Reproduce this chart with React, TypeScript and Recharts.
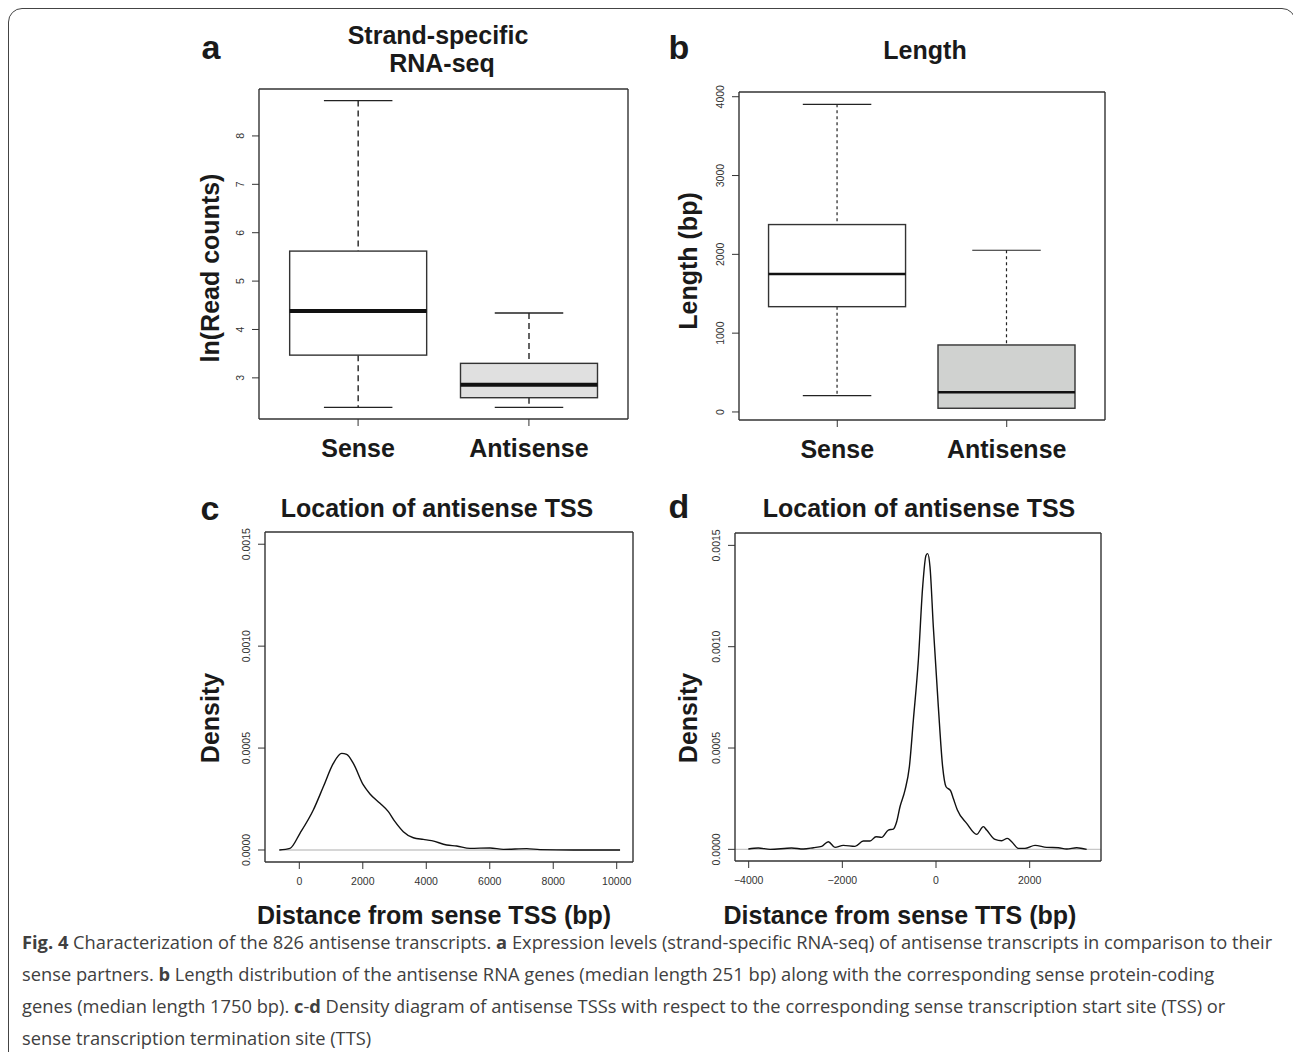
import React from 'react'
import {
  BarChart,
  Bar,
  LineChart,
  Line,
  XAxis,
  YAxis,
  ReferenceLine,
} from 'recharts'

// panel a: strand-specific RNA-seq, ln(read counts)
const boxCats = ['Sense', 'Antisense']
const aMin = [2.39, 2.39]
const aQ1 = [3.47, 2.59]
const aMed = [4.38, 2.86]
const aQ3 = [5.62, 3.3]
const aMax = [8.73, 4.34]
const aTicks = [3, 4, 5, 6, 7, 8]

// panel b: length (bp)
const bMin = [207, 47]
const bQ1 = [1336, 47]
const bMed = [1751, 251]
const bQ3 = [2378, 850]
const bMax = [3904, 2052]
const bTicks = [0, 1000, 2000, 3000, 4000]

// panel c: distance from sense TSS
const cX = [-630, -294, 21, 441, 756, 1071, 1334, 1492, 1702, 2017, 2227, 2542, 2805, 3015, 3277, 3592, 3908, 4170, 4643, 4958, 5378, 6008, 6429, 7164, 7584, 8634, 10105]
const cY = [0, 0.000008, 0.000082, 0.000196, 0.00031, 0.000425, 0.000474, 0.000469, 0.000425, 0.000319, 0.000275, 0.000229, 0.000188, 0.000139, 0.00009, 0.00006, 0.000052, 0.000046, 0.0000245, 0.0000196, 0.000008, 0.00001, 0.000003, 0.0000065, 0.0000016, 0, 0]
const cTicks = [0, 2000, 4000, 6000, 8000, 10000]

// panel d: distance from sense TTS
const dX = [-4007, -3794, -3544, -3082, -2833, -2619, -2441, -2299, -2157, -1979, -1730, -1552, -1409, -1281, -1160, -1018, -911, -840, -769, -662, -569, -484, -377, -285, -214, -178, -128, -57, 50, 142, 214, 313, 370, 456, 655, 868, 1011, 1082, 1260, 1402, 1523, 1616, 1758, 1900, 2114, 2363, 2612, 2790, 3004, 3217]
const dY = [0.0000016, 0.0000066, 0, 0.0000066, 0.0000016, 0.000008, 0.0000148, 0.0000378, 0.0000099, 0.0000197, 0.0000148, 0.000041, 0.000041, 0.0000624, 0.0000591, 0.0000953, 0.0001, 0.000136, 0.00021, 0.000292, 0.000407, 0.000637, 0.000933, 0.001295, 0.00145, 0.001459, 0.001393, 0.001097, 0.000703, 0.000407, 0.000309, 0.000289, 0.000251, 0.000194, 0.000128, 0.000074, 0.000112, 0.000095, 0.000049, 0.0000427, 0.0000542, 0.0000378, 0.0000049, 0.0000049, 0.0000197, 0.0000099, 0.000008, 0.0000016, 0.000008, 0]
const cdYTicks = [0, 0.0005, 0.001, 0.0015]
const dTicks = [-4000, -2000, 0, 2000]

const FONT = '"Liberation Sans", Arial, Helvetica, sans-serif'
const INK = '#333'

function RotYTick(props: any) {
  const { x, y, payload, fmt } = props
  return (
    <text
      x={x}
      y={y}
      transform={`rotate(-90 ${x} ${y})`}
      textAnchor="middle"
      fontSize={10.5}
      fill={INK}
      fontFamily={FONT}
    >
      {fmt ? fmt(payload.value) : payload.value}
    </text>
  )
}

function BoxShape(props: any) {
  const { x, y, width, height, payload, medW, dash, lw } = props
  const [lo, hi] = payload.box
  const top = Math.min(y, y + height)
  const h = Math.abs(height)
  const py = (v: number) => top + ((hi - v) * h) / (hi - lo)
  const cx = x + width / 2
  const cap = width / 4
  return (
    <g>
      <line x1={cx} x2={cx} y1={py(payload.max)} y2={top} stroke="#222" strokeWidth={lw} strokeDasharray={dash} />
      <line x1={cx} x2={cx} y1={top + h} y2={py(payload.min)} stroke="#222" strokeWidth={lw} strokeDasharray={dash} />
      <line x1={cx - cap} x2={cx + cap} y1={py(payload.max)} y2={py(payload.max)} stroke="#222" strokeWidth={lw} />
      <line x1={cx - cap} x2={cx + cap} y1={py(payload.min)} y2={py(payload.min)} stroke="#222" strokeWidth={lw} />
      <rect x={x} y={top} width={width} height={h} fill={payload.fill} stroke="#333" strokeWidth={1.4} />
      <line x1={x} x2={x + width} y1={py(payload.med)} y2={py(payload.med)} stroke="#111" strokeWidth={medW} />
    </g>
  )
}

const frameLine = { stroke: INK, strokeWidth: 1.4 }

function BoxPanel(props: any) {
  const { data, domain, ticks, margin, yw, plotW, medW, dash, lw } = props
  const pad = plotW * 0.037037
  return (
    <BarChart width={460} height={400} data={data} margin={margin} style={{ fontFamily: FONT }}>
      <XAxis
        dataKey="name"
        padding={{ left: pad, right: pad }}
        height={50}
        tickSize={7}
        tickMargin={13}
        axisLine={frameLine}
        tickLine={{ stroke: INK }}
        tick={{ fontSize: 25, fontWeight: 'bold', fill: '#1a1a1a' }}
      />
      <XAxis xAxisId="top" dataKey="name" orientation="top" height={1} tick={false} tickLine={false} axisLine={frameLine} />
      <YAxis
        type="number"
        domain={domain}
        ticks={ticks}
        allowDataOverflow
        width={yw}
        tickSize={7}
        tickMargin={8}
        axisLine={frameLine}
        tickLine={{ stroke: INK }}
        tick={(p: any) => <RotYTick {...p} />}
      />
      <YAxis yAxisId="right" orientation="right" width={1} domain={[0, 1]} tick={false} tickLine={false} axisLine={frameLine} />
      <Bar
        dataKey="box"
        barSize={137}
        isAnimationActive={false}
        shape={(p: any) => <BoxShape {...p} medW={medW} dash={dash} lw={lw} />}
      />
    </BarChart>
  )
}

function DensityPanel(props: any) {
  const { data, xDomain, yDomain, xTicks, margin, yw, zeroSeg, xfmt } = props
  return (
    <LineChart width={460} height={420} data={data} margin={margin} style={{ fontFamily: FONT }}>
      <XAxis
        dataKey="x"
        type="number"
        domain={xDomain}
        ticks={xTicks}
        allowDataOverflow
        height={40}
        tickSize={7}
        tickMargin={9}
        axisLine={frameLine}
        tickLine={{ stroke: INK }}
        tickFormatter={xfmt}
        tick={{ fontSize: 10.5, fill: INK }}
      />
      <XAxis xAxisId="top" dataKey="x" type="number" domain={xDomain} allowDataOverflow orientation="top" height={1} tick={false} tickLine={false} axisLine={frameLine} />
      <YAxis
        type="number"
        domain={yDomain}
        ticks={cdYTicks}
        allowDataOverflow
        width={yw}
        tickSize={7}
        tickMargin={8}
        axisLine={frameLine}
        tickLine={{ stroke: INK }}
        tick={(p: any) => <RotYTick {...p} fmt={(v: number) => v.toFixed(4)} />}
      />
      <YAxis yAxisId="right" orientation="right" width={1} domain={[0, 1]} tick={false} tickLine={false} axisLine={frameLine} />
      {zeroSeg ? (
        <ReferenceLine segment={zeroSeg} stroke="#c8c8c8" strokeWidth={1.5} />
      ) : (
        <ReferenceLine y={0} stroke="#c8c8c8" strokeWidth={1.2} />
      )}
      <Line dataKey="y" type="monotone" dot={false} stroke="#111" strokeWidth={1.4} isAnimationActive={false} />
    </LineChart>
  )
}

const abs = (left: number, top: number, extra: any = {}): React.CSSProperties => ({
  position: 'absolute',
  left,
  top,
  ...extra,
})

const bold25: React.CSSProperties = {
  fontFamily: FONT,
  fontWeight: 'bold',
  fontSize: 25,
  color: '#1a1a1a',
  whiteSpace: 'nowrap',
  lineHeight: '28px',
}

function Centered({ cx, cy, children, rotate, size }: any) {
  return (
    <div
      style={{
        ...bold25,
        fontSize: size || 25,
        position: 'absolute',
        left: cx,
        top: cy,
        transform: `translate(-50%, -50%)${rotate ? ' rotate(-90deg)' : ''}`,
        textAlign: 'center',
      }}
    >
      {children}
    </div>
  )
}

export default function App() {
  const aData = boxCats.map((name, i) => ({
    name,
    box: [aQ1[i], aQ3[i]],
    min: aMin[i],
    med: aMed[i],
    max: aMax[i],
    fill: i === 0 ? '#ffffff' : '#e0e0e0',
  }))
  const bData = boxCats.map((name, i) => ({
    name,
    box: [bQ1[i], bQ3[i]],
    min: bMin[i],
    med: bMed[i],
    max: bMax[i],
    fill: i === 0 ? '#ffffff' : '#d0d2d0',
  }))
  const cData = cX.map((x, i) => ({ x, y: cY[i] }))
  const dData = dX.map((x, i) => ({ x, y: dY[i] }))

  const capStyle: React.CSSProperties = {
    position: 'absolute',
    left: 22,
    top: 926,
    fontFamily: '"Open Sans", "Noto Sans", sans-serif',
    fontSize: 18.3,
    lineHeight: '32px',
    color: '#404040',
    whiteSpace: 'nowrap',
  }

  return (
    <div style={{ position: 'absolute', left: 0, top: 0, width: 1293, height: 1052, overflow: 'hidden', background: '#fff' }}>
      <div
        style={{
          position: 'absolute',
          left: 8,
          top: 8,
          width: 1288,
          height: 1200,
          border: '1.5px solid #444',
          borderRadius: 14,
          boxSizing: 'border-box',
        }}
      />

      <div style={abs(190, 80)}>
        <BoxPanel data={aData} domain={[2.15, 8.97]} ticks={aTicks} yw={40} plotW={369}
          margin={{ top: 8, right: 21, bottom: 11, left: 29 }} medW={4} dash="6 4" lw={1.4} />
      </div>
      <div style={abs(700, 80)}>
        <BoxPanel data={bData} domain={[-102, 4060]} ticks={bTicks} yw={30} plotW={366}
          margin={{ top: 11, right: 54, bottom: 10, left: 9 }} medW={2.6} dash="3 3" lw={1.2} />
      </div>
      <div style={abs(190, 520)}>
        <DensityPanel data={cData} xDomain={[-1081, 10513]} yDomain={[-0.0000589, 0.00156]} xTicks={cTicks}
          yw={40} margin={{ top: 11, right: 16, bottom: 38, left: 35 }}
          zeroSeg={[{ x: cX[0], y: 0 }, { x: cX[cX.length - 1], y: 0 }]}
          xfmt={(v: number) => String(v)} />
      </div>
      <div style={abs(700, 520)}>
        <DensityPanel data={dData} xDomain={[-4292, 3523]} yDomain={[-0.0000575, 0.001561]} xTicks={dTicks}
          yw={30} margin={{ top: 12, right: 58, bottom: 39, left: 5 }}
          xfmt={(v: number) => String(v).replace('-', '\u2212')} />
      </div>

      {/* panel letters */}
      <Centered cx={211} cy={47} size={34}>a</Centered>
      <Centered cx={679} cy={47} size={34}>b</Centered>
      <Centered cx={210} cy={508} size={34}>c</Centered>
      <Centered cx={679} cy={506} size={34}>d</Centered>

      {/* titles */}
      <Centered cx={438} cy={35}>Strand-specific</Centered>
      <Centered cx={442} cy={63}>RNA-seq</Centered>
      <Centered cx={925} cy={50}>Length</Centered>
      <Centered cx={437} cy={508}>Location of antisense TSS</Centered>
      <Centered cx={919} cy={508}>Location of antisense TSS</Centered>

      {/* axis titles */}
      <Centered cx={210} cy={268} rotate>ln(Read counts)</Centered>
      <Centered cx={688} cy={261} rotate>Length (bp)</Centered>
      <Centered cx={210} cy={718} rotate>Density</Centered>
      <Centered cx={688} cy={718} rotate>Density</Centered>
      <Centered cx={434} cy={915}>Distance from sense TSS (bp)</Centered>
      <Centered cx={900} cy={915}>Distance from sense TTS (bp)</Centered>

      <div style={capStyle}>
        <div><b>Fig. 4</b> Characterization of the 826 antisense transcripts. <b>a</b> Expression levels (strand-specific RNA-seq) of antisense transcripts in comparison to their</div>
        <div>sense partners. <b>b</b> Length distribution of the antisense RNA genes (median length 251 bp) along with the corresponding sense protein-coding</div>
        <div>genes (median length 1750 bp). <b>c</b>-<b>d</b> Density diagram of antisense TSSs with respect to the corresponding sense transcription start site (TSS) or</div>
        <div>sense transcription termination site (TTS)</div>
      </div>
    </div>
  )
}
